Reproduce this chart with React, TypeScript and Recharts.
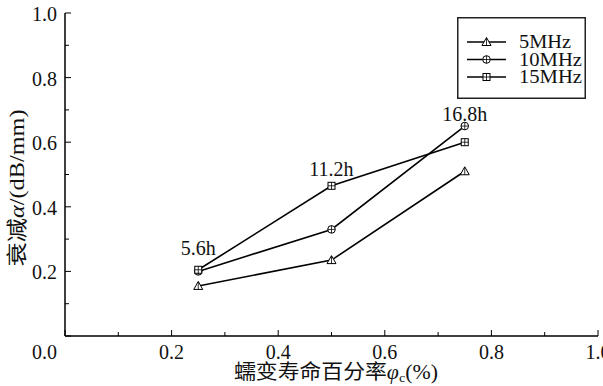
import React from "react";
import { LineChart, Line, XAxis, YAxis, LabelList } from "recharts";

// creep life fraction (x) and attenuation per frequency (y)
const fractions = [0.25, 0.5, 0.75];
const mhz5 = [0.155, 0.235, 0.51];
const mhz10 = [0.2, 0.33, 0.65];
const mhz15 = [0.205, 0.465, 0.6];
const hourLabels = ["5.6h", "11.2h", "16.8h"];
const seriesNames = ["5MHz", "10MHz", "15MHz"];
const axisTicks = [0, 0.1, 0.2, 0.3, 0.4, 0.5, 0.6, 0.7, 0.8, 0.9, 1.0];
const majorTicks = [0, 0.2, 0.4, 0.6, 0.8, 1.0];

// vertical gap between each hour label and its marker
const hourLabelGap = [15, 10, 5];

const data = fractions.map((f, i) => ({
  x: f,
  s5: mhz5[i],
  s10: mhz10[i],
  s15: mhz15[i],
  hour: hourLabels[i],
}));

const FONT = '"Liberation Serif", "Noto Sans CJK SC", serif';
const txt = { fontFamily: FONT, fontSize: 20, fill: "#111" };

const isMajor = (v: number) => majorTicks.some((m) => Math.abs(m - v) < 1e-6);

const XTick = (props: any) => {
  const { x, y, payload } = props;
  const v = payload.value as number;
  const major = isMajor(v);
  return (
    <g>
      <line x1={x} y1={y} x2={x} y2={y - (major ? 6 : 4)} stroke="#000" strokeWidth={1} />
      {major && (
        <text x={v === 0 ? x - 8 : x} y={y + 23} textAnchor={v === 0 ? "end" : "middle"} style={txt}>
          {v.toFixed(1)}
        </text>
      )}
    </g>
  );
};

const YTick = (props: any) => {
  const { x, y, payload } = props;
  const v = payload.value as number;
  const major = isMajor(v);
  return (
    <g>
      <line x1={x} y1={y} x2={x + (major ? 6 : 4)} y2={y} stroke="#000" strokeWidth={1} />
      {major && v !== 0 && (
        <text x={x - 8} y={y + 8} textAnchor="end" style={txt}>
          {v.toFixed(1)}
        </text>
      )}
    </g>
  );
};

// marker shapes
const Triangle = (props: any) => {
  const { cx, cy } = props;
  if (cx == null || cy == null) return null;
  return (
    <g>
      <polygon points={`${cx},${cy - 4.5} ${cx - 4.5},${cy + 3.5} ${cx + 4.5},${cy + 3.5}`} fill="#fff" stroke="#000" strokeWidth={1} />
      <line x1={cx} y1={cy - 4} x2={cx} y2={cy + 3.5} stroke="#000" strokeWidth={0.8} />
    </g>
  );
};

const CircleCross = (props: any) => {
  const { cx, cy } = props;
  if (cx == null || cy == null) return null;
  return (
    <g>
      <circle cx={cx} cy={cy} r={3.8} fill="#fff" stroke="#000" strokeWidth={1} />
      <line x1={cx - 3.8} y1={cy} x2={cx + 3.8} y2={cy} stroke="#000" strokeWidth={0.8} />
      <line x1={cx} y1={cy - 3.8} x2={cx} y2={cy + 3.8} stroke="#000" strokeWidth={0.8} />
    </g>
  );
};

const SquareCross = (props: any) => {
  const { cx, cy } = props;
  if (cx == null || cy == null) return null;
  return (
    <g>
      <rect x={cx - 3.5} y={cy - 3.5} width={7} height={7} fill="#fff" stroke="#000" strokeWidth={1} />
      <line x1={cx - 3.5} y1={cy} x2={cx + 3.5} y2={cy} stroke="#000" strokeWidth={0.8} />
      <line x1={cx} y1={cy - 3.5} x2={cx} y2={cy + 3.5} stroke="#000" strokeWidth={0.8} />
    </g>
  );
};

const markers = [Triangle, CircleCross, SquareCross];

const hourLabel = (which: (i: number) => boolean) => (props: any) => {
  const { x, y, value, index } = props;
  if (!which(index)) return null;
  return (
    <text x={x} y={y - hourLabelGap[index]} textAnchor="middle" style={txt}>
      {value}
    </text>
  );
};

const LegendBox = ({ left, top }: { left: number; top: number }) => (
  <g transform={`translate(${left},${top})`}>
    <rect x={0.75} y={0.75} width={127.5} height={80.5} fill="#fff" stroke="#222" strokeWidth={1.5} />
    {seriesNames.map((name, i) => {
      const Marker = markers[i];
      const cy = 25 + i * 17.5;
      return (
        <g key={name}>
          <line x1={10} y1={cy} x2={49} y2={cy} stroke="#000" strokeWidth={1.5} />
          <Marker cx={29.5} cy={cy} />
          <text x={62} y={cy + 6} style={{ ...txt, fontSize: 18 }} textLength={name.length > 4 ? 63 : 52} lengthAdjust="spacingAndGlyphs">
            {name}
          </text>
        </g>
      );
    })}
  </g>
);

export default function App() {
  return (
    <div style={{ position: "absolute", left: 0, top: 0, width: 603, height: 386, background: "#fff" }}>
      <LineChart width={603} height={386} data={data} margin={{ top: 13, right: 5, left: 0, bottom: 0 }}>
        <XAxis
          dataKey="x"
          type="number"
          domain={[0, 1]}
          ticks={axisTicks}
          interval={0}
          tick={<XTick />}
          tickLine={false}
          tickSize={0}
          tickMargin={0}
          height={50}
          axisLine={{ stroke: "#000", strokeWidth: 1.5 }}
        />
        <XAxis xAxisId="top" orientation="top" dataKey="x" type="number" domain={[0, 1]} height={0} tick={false} tickLine={false} axisLine={{ stroke: "#888", strokeWidth: 1.5 }} />
        <YAxis
          type="number"
          domain={[0, 1]}
          ticks={axisTicks}
          interval={0}
          tick={<YTick />}
          tickLine={false}
          tickSize={0}
          tickMargin={0}
          width={65}
          axisLine={{ stroke: "#000", strokeWidth: 1.5 }}
        />
        <YAxis yAxisId="right" orientation="right" type="number" domain={[0, 1]} width={0} tick={false} tickLine={false} axisLine={{ stroke: "#888", strokeWidth: 1.5 }} />
        <Line dataKey="s5" name={seriesNames[0]} stroke="#000" strokeWidth={1.6} dot={<Triangle />} isAnimationActive={false} />
        <Line dataKey="s10" name={seriesNames[1]} stroke="#000" strokeWidth={1.6} dot={<CircleCross />} isAnimationActive={false}>
          <LabelList dataKey="hour" content={hourLabel((i) => i === 2)} />
        </Line>
        <Line dataKey="s15" name={seriesNames[2]} stroke="#000" strokeWidth={1.6} dot={<SquareCross />} isAnimationActive={false}>
          <LabelList dataKey="hour" content={hourLabel((i) => i < 2)} />
        </Line>
      </LineChart>
      <svg width={603} height={386} style={{ position: "absolute", left: 0, top: 0, pointerEvents: "none" }}>
        <LegendBox left={457} top={17} />
        <text x={336} y={379} textAnchor="middle" style={{ ...txt, fontSize: 20 }} textLength={204} lengthAdjust="spacingAndGlyphs">
          蠕变寿命百分率<tspan fontStyle="italic">φ</tspan>
          <tspan fontSize={13} dy={3}>c</tspan>
          <tspan dy={-3}>(%)</tspan>
        </text>
        <text
          x={24}
          y={188}
          textAnchor="middle"
          style={{ ...txt, fontSize: 21 }}
          textLength={157}
          lengthAdjust="spacingAndGlyphs"
          transform="rotate(-90 24 188)"
        >
          衰减<tspan fontStyle="italic">α</tspan>/(dB/mm)
        </text>
      </svg>
    </div>
  );
}
